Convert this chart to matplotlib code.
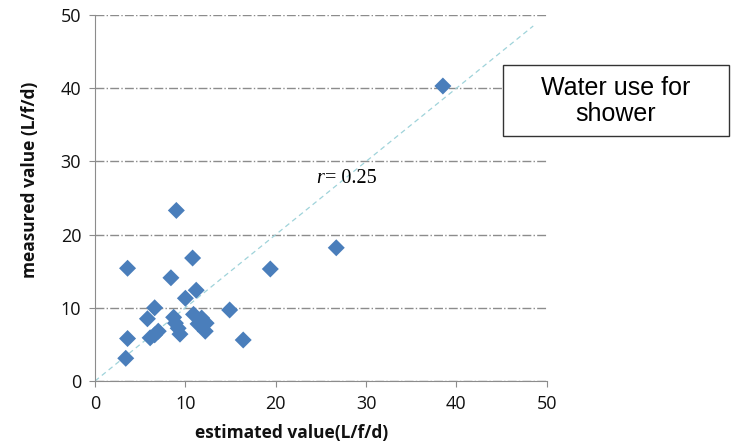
import matplotlib
matplotlib.use("Agg")
import matplotlib.pyplot as plt
from matplotlib.patches import Rectangle

# estimated vs measured shower water use (L/f/d)
estimated = [38.5, 26.7, 19.4, 9.0, 3.6, 8.4, 10.8, 11.2, 10.0, 6.6,
             5.8, 3.6, 3.4, 6.1, 6.6, 7.0, 8.7, 8.9, 9.2, 9.4,
             10.9, 11.8, 11.4, 12.3, 12.2, 14.9, 16.4]
measured = [40.3, 18.2, 15.3, 23.3, 15.4, 14.1, 16.8, 12.4, 11.3, 10.0,
            8.5, 5.8, 3.1, 5.9, 6.3, 6.8, 8.7, 7.9, 7.2, 6.4,
            9.1, 8.6, 7.8, 7.9, 6.8, 9.7, 5.6]
ticks = [0, 10, 20, 30, 40, 50]
one_to_one = [0, 48.5]

plt.rcParams['font.family'] = ['Open Sans', 'DejaVu Sans']

fig = plt.figure(figsize=(7.31, 4.47), dpi=100)
ax = fig.add_axes([0.130, 0.1477, 0.618, 0.8187])

ax.set_xlim(0, 50)
ax.set_ylim(0, 50)
ax.set_xticks(ticks)
ax.set_yticks(ticks)
ax.yaxis.grid(True, color='#8c8c8c', linestyle='-.', linewidth=1.0)
ax.set_axisbelow(True)

for s in ['top', 'right']:
    ax.spines[s].set_visible(False)
for s in ['left', 'bottom']:
    ax.spines[s].set_color('#8c8c8c')
ax.tick_params(colors='#8c8c8c', labelcolor='#111111', length=4,
               labelsize=13, pad=6)

ax.plot(one_to_one, one_to_one, linestyle='--', color='#9fd3da',
        linewidth=0.9, dashes=(4, 3))
ax.scatter(estimated, measured, marker='D', s=75, color='#4a7ebb',
           edgecolors='none', zorder=3)

ax.text(25.3, 27.6, 'r', fontsize=14.5, family='Liberation Serif',
        style='italic', ha='right', va='center')
ax.text(25.4, 27.6, '= 0.25', fontsize=14.5, family='Liberation Serif',
        ha='left', va='center')

fig.text(30 / 731, 1 - 180 / 447, 'measured value (L/f/d)', rotation=90,
         ha='center', va='center', fontsize=12.5, fontweight='bold',
         color='#111111')
fig.text(292 / 731, 1 - 433 / 447, 'estimated value(L/f/d)',
         ha='center', va='center', fontsize=12.5, fontweight='bold',
         color='#111111')

box = Rectangle((503 / 731, 1 - 136 / 447), 226 / 731, 71 / 447,
                transform=fig.transFigure, facecolor='white',
                edgecolor='#333333', linewidth=1.0, zorder=5)
fig.patches.append(box)
fig.text(616 / 731, 1 - 101 / 447, 'Water use for\nshower',
         ha='center', va='center', fontsize=18, family='Liberation Sans',
         linespacing=1.15, zorder=6)

fig.savefig('out.png', dpi=100)
